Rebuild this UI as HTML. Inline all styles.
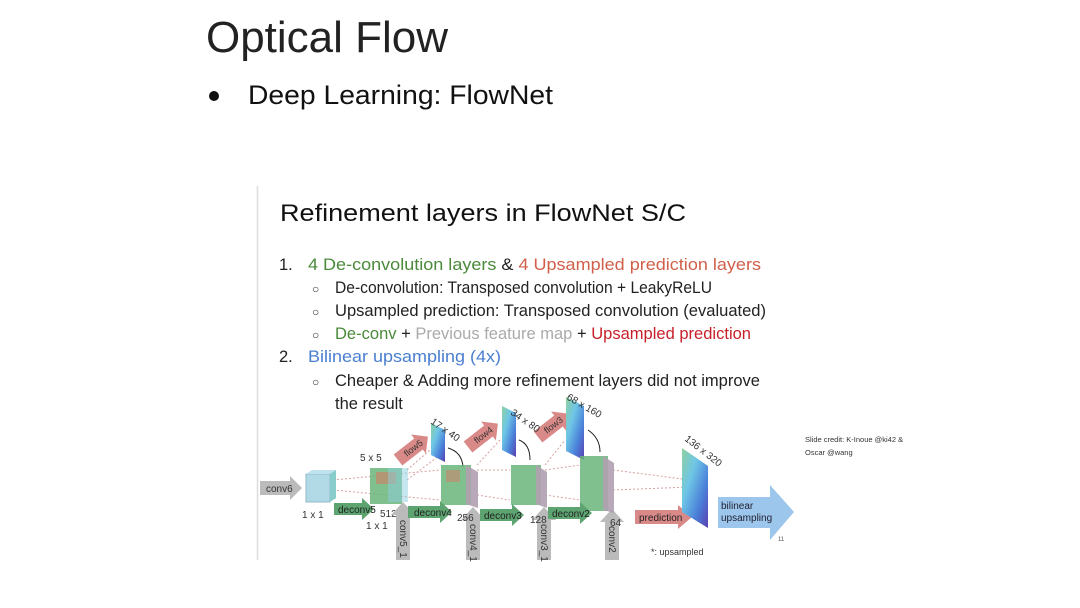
<!DOCTYPE html>
<html><head><meta charset="utf-8"><style>
html,body{margin:0;padding:0;background:#fff;}
svg{display:block;}
text{font-family:"Liberation Sans",sans-serif;}
</style></head><body>
<svg width="1080" height="608" viewBox="0 0 1080 608" xmlns="http://www.w3.org/2000/svg">
<defs>
<linearGradient id="fg" x1="0" y1="0" x2="1" y2="1">
<stop offset="0" stop-color="#8fd0a0"/><stop offset="0.35" stop-color="#6ec6e6"/><stop offset="0.7" stop-color="#4a7fd8"/><stop offset="1" stop-color="#5a3fb0"/>
</linearGradient>
</defs>
<rect width="1080" height="608" fill="#fff"/>
<text x="206" y="52" font-size="44" fill="#222" textLength="242" lengthAdjust="spacingAndGlyphs">Optical Flow</text>
<circle cx="214" cy="96" r="5" fill="#111"/>
<text x="248" y="104" font-size="27" fill="#111" textLength="305" lengthAdjust="spacingAndGlyphs">Deep Learning: FlowNet</text>

<line x1="257.5" y1="186" x2="257.5" y2="560" stroke="#ddd" stroke-width="1.5"/>
<text x="280" y="221" font-size="24" fill="#111" textLength="406" lengthAdjust="spacingAndGlyphs">Refinement layers in FlowNet S/C</text>
<g font-size="16.5">
<text x="279" y="270" fill="#222">1.</text>
<text x="308" y="270" textLength="453" lengthAdjust="spacingAndGlyphs"><tspan fill="#4a8a3a">4 De-convolution layers</tspan><tspan fill="#222"> &amp; </tspan><tspan fill="#d0604a">4 Upsampled prediction layers</tspan></text>
<text x="312" y="293" fill="#333" font-size="12">○</text>
<text x="335" y="293" fill="#222" textLength="377" lengthAdjust="spacingAndGlyphs">De-convolution: Transposed convolution + LeakyReLU</text>
<text x="312" y="316" fill="#333" font-size="12">○</text>
<text x="335" y="316" fill="#222" textLength="431" lengthAdjust="spacingAndGlyphs">Upsampled prediction: Transposed convolution (evaluated)</text>
<text x="312" y="339" fill="#333" font-size="12">○</text>
<text x="335" y="339" textLength="416" lengthAdjust="spacingAndGlyphs"><tspan fill="#4a8a3a">De-conv</tspan><tspan fill="#222"> + </tspan><tspan fill="#aaa">Previous feature map</tspan><tspan fill="#222"> + </tspan><tspan fill="#c8202a">Upsampled prediction</tspan></text>
<text x="279" y="362" fill="#222">2.</text>
<text x="308" y="362" fill="#4a7fd0" textLength="193" lengthAdjust="spacingAndGlyphs">Bilinear upsampling (4x)</text>
<text x="312" y="386" fill="#333" font-size="12">○</text>
<text x="335" y="386" fill="#222" textLength="425" lengthAdjust="spacingAndGlyphs">Cheaper &amp; Adding more refinement layers did not improve</text>
<text x="335" y="409" fill="#222">the result</text>
</g>

<g stroke="#c88" stroke-width="1" stroke-dasharray="2,2" fill="none" opacity="0.8">
<path d="M333 480 L440 470 M333 490 L440 500 M407 470 L430 450 M407 480 L440 455"/>
<path d="M477 470 L510 470 M477 495 L510 500 M477 465 L500 440"/>
<path d="M545 470 L580 465 M545 495 L580 500 M545 465 L565 440"/>
<path d="M613 470 L690 480 M613 490 L690 487"/>
</g>
<polygon points="260,481 290,481 290,476 302,488 290,500 290,495 260,495" fill="#bbb"/>
<text x="266" y="492" font-size="10" fill="#333">conv6</text>
<rect x="306" y="474" width="24" height="28" fill="#9ed0e0" stroke="#7ab" opacity="0.8"/>
<polygon points="306,474 312,470 336,470 330,474" fill="#bfe3ee"/>
<polygon points="330,474 336,470 336,498 330,502" fill="#8cc"/>
<text x="302" y="518" font-size="10" fill="#333">1 x 1</text>

<rect x="370" y="468" width="32" height="36" fill="#6ab47a" opacity="0.85"/>
<rect x="376" y="472" width="20" height="12" fill="#c9866a" opacity="0.7"/>
<rect x="388" y="468" width="20" height="34" fill="#8ecfe0" opacity="0.5"/>
<text x="360" y="461" font-size="10" fill="#333">5 x 5</text>
<polygon points="334,503 362,503 362,498 374,509 362,520 362,515 334,515" fill="#5da470"/>
<text x="338" y="513" font-size="10" fill="#222">deconv5</text>
<text x="380" y="517" font-size="10" fill="#333">512</text>
<text x="366" y="529" font-size="10" fill="#333">1 x 1</text>

<g fill="#bbb">
<polygon points="396,560 396,515 391,515 403,502 415,515 410,515 410,560"/>
<polygon points="466,560 466,520 461,520 473,507 485,520 480,520 480,560"/>
<polygon points="537,560 537,520 532,520 544,507 556,520 551,520 551,560"/>
<polygon points="605,560 605,522 600,522 612,509 624,522 619,522 619,560"/>
</g>
<g font-size="10" fill="#333">
<text transform="translate(400,520) rotate(90)">conv5_1</text>
<text transform="translate(470,524) rotate(90)">conv4_1</text>
<text transform="translate(541,524) rotate(90)">conv3_1</text>
<text transform="translate(609,526) rotate(90)">conv2</text>
</g>

<g fill="#d98a88">
<polygon points="0,-7 26,-7 26,-12 38,0 26,12 26,7 0,7" transform="translate(398,460) rotate(-38)"/>
<polygon points="0,-7 26,-7 26,-12 38,0 26,12 26,7 0,7" transform="translate(468,447) rotate(-38)"/>
<polygon points="0,-7 26,-7 26,-12 38,0 26,12 26,7 0,7" transform="translate(538,437) rotate(-38)"/>
</g>
<g font-size="9" fill="#333">
<text transform="translate(407,457) rotate(-38)">flow5</text>
<text transform="translate(477,444) rotate(-38)">flow4</text>
<text transform="translate(547,434) rotate(-38)">flow3</text>
</g>
<polygon points="431,423 445,430 445,462 431,455" fill="url(#fg)"/>
<polygon points="502,406 516,413 516,457 502,450" fill="url(#fg)"/>
<polygon points="566,397 584,406 584,460 566,451" fill="url(#fg)"/>
<g font-size="10" fill="#333">
<text transform="translate(430,423) rotate(35)">17 x 40</text>
<text transform="translate(510,414) rotate(35)">34 x 80</text>
<text transform="translate(566,399) rotate(30)">68 x 160</text>
<text transform="translate(684,440) rotate(38)">136 x 320</text>
</g>
<g stroke="#222" fill="none" stroke-width="1"><path d="M448 448 Q462 452 463 467"/><path d="M519 440 Q530 444 530 460"/><path d="M588 430 Q600 438 600 452"/></g>

<rect x="441" y="465" width="30" height="40" fill="#6ab47a" opacity="0.85"/>
<rect x="446" y="470" width="14" height="12" fill="#c9866a" opacity="0.6"/>
<polygon points="466,465 478,472 478,508 466,504" fill="#b0a0b0" opacity="0.9"/>
<polygon points="408,506 440,506 440,501 452,512 440,523 440,518 408,518" fill="#5da470"/>
<text x="414" y="516" font-size="10" fill="#222">deconv4</text>
<text x="457" y="521" font-size="10" fill="#333">256</text>

<rect x="511" y="465" width="30" height="40" fill="#6ab47a" opacity="0.85"/>
<polygon points="536,465 547,472 547,508 536,504" fill="#b0a0b0" opacity="0.9"/>
<polygon points="480,509 512,509 512,504 524,515 512,526 512,521 480,521" fill="#5da470"/>
<text x="484" y="519" font-size="10" fill="#222">deconv3</text>
<text x="530" y="523" font-size="10" fill="#333">128</text>

<rect x="580" y="456" width="28" height="55" fill="#6ab47a" opacity="0.85"/>
<polygon points="603,456 614,463 614,513 603,510" fill="#b0a0b0" opacity="0.9"/>
<polygon points="548,507 580,507 580,502 592,513 580,524 580,519 548,519" fill="#5da470"/>
<text x="552" y="517" font-size="10" fill="#222">deconv2</text>
<text x="610" y="526" font-size="10" fill="#333">64</text>

<polygon points="635,510 678,510 678,505 692,517 678,529 678,524 635,524" fill="#d98a88"/>
<text x="639" y="521" font-size="10" fill="#222">prediction</text>
<polygon points="682,448 708,466 708,528 682,512" fill="url(#fg)"/>

<polygon points="718,497 770,497 770,485 794,512 770,540 770,528 718,528" fill="#9cc6ec"/>
<text x="721" y="509" font-size="10" fill="#223">bilinear</text>
<text x="721" y="521" font-size="10" fill="#223">upsampling</text>
<text x="778" y="541" font-size="6" fill="#555">11</text>
<text x="651" y="555" font-size="9" fill="#333">*: upsampled</text>

<text x="805" y="442" font-size="7.5" fill="#333">Slide credit: K-Inoue @ki42 &amp;</text>
<text x="805" y="455" font-size="7.5" fill="#333">Oscar @wang</text>
</svg>
</body></html>
